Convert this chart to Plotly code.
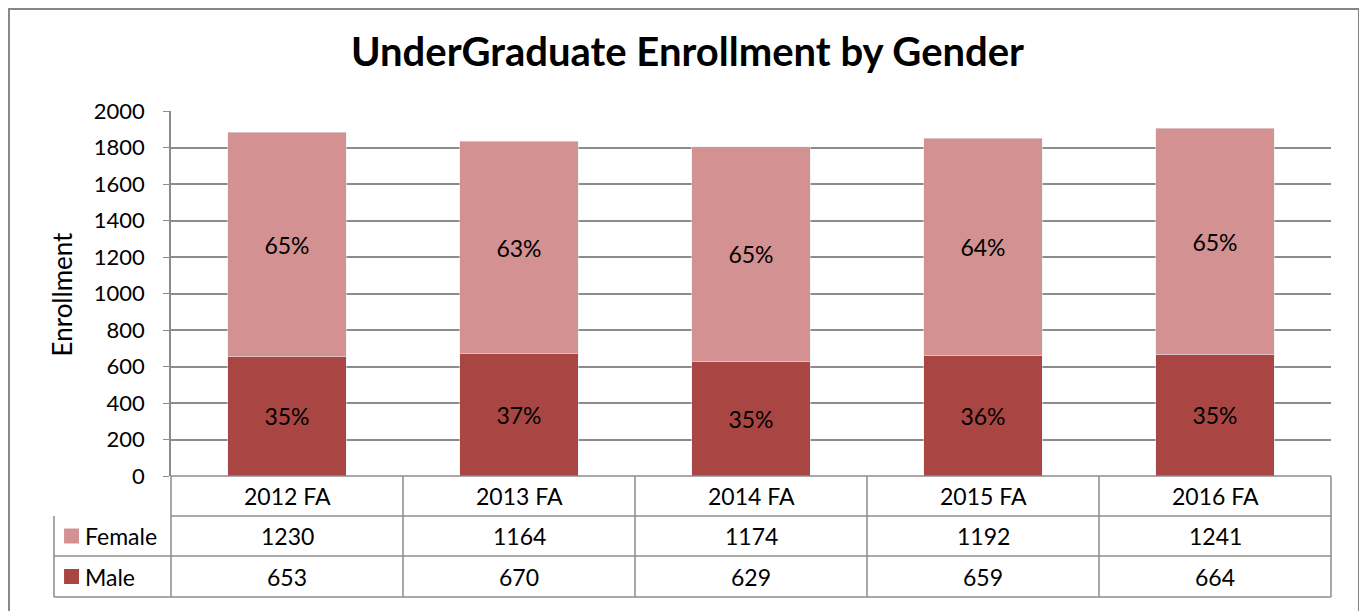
import plotly.graph_objects as go

years = ["2012 FA", "2013 FA", "2014 FA", "2015 FA", "2016 FA"]
female = [1230, 1164, 1174, 1192, 1241]
male = [653, 670, 629, 659, 664]

female_color = "#D39291"
male_color = "#A94643"
grid_color = "#8C8C8C"
font = "Lato, Calibri, sans-serif"

totals = [f + m for f, m in zip(female, male)]
male_pct = [f"{round(m / t * 100)}%" for m, t in zip(male, totals)]
female_pct = [f"{round(f / t * 100)}%" for f, t in zip(female, totals)]

fig = go.Figure()
fig.add_bar(x=years, y=male, name="Male", marker_color=male_color, width=0.51,
            text=male_pct, textposition="inside", insidetextanchor="middle",
            textfont=dict(color="black", size=23, family=font), hoverinfo="skip")
fig.add_bar(x=years, y=female, name="Female", marker_color=female_color, width=0.51,
            text=female_pct, textposition="inside", insidetextanchor="middle",
            textfont=dict(color="black", size=23, family=font), hoverinfo="skip")

# data table below the plot: paper coordinates of row borders
row_top = 0.0
row_cat = -0.1096
row_fem = -0.2192
row_male = -0.3315
left_col = -0.1009

shapes = []
line = dict(color=grid_color, width=1.5)
for y in (row_cat, row_fem, row_male):
    shapes.append(dict(type="line", xref="paper", yref="paper", x0=left_col if y != row_cat else 0,
                       x1=1, y0=y, y1=y, line=line))
shapes.append(dict(type="line", xref="paper", yref="paper", x0=0, x1=1, y0=row_top, y1=row_top, line=line))
shapes.append(dict(type="line", xref="paper", yref="paper", x0=left_col, x1=left_col,
                   y0=row_cat, y1=row_male, line=line))
for i in range(len(years) + 1):
    xp = i / len(years)
    shapes.append(dict(type="line", xref="paper", yref="paper", x0=xp, x1=xp,
                       y0=row_top, y1=row_male, line=line))
# outer chart border
shapes.append(dict(type="rect", xref="paper", yref="paper", x0=-0.1397, x1=1.0241,
                   y0=-0.45, y1=1.2795, line=dict(color="#868686", width=2)))

annotations = []
cell_font = dict(size=23, color="black", family=font)
for i, yr in enumerate(years):
    for text, y in ((yr, (row_top + row_cat) / 2),
                    (str(female[i]), (row_cat + row_fem) / 2),
                    (str(male[i]), (row_fem + row_male) / 2)):
        annotations.append(dict(x=yr, y=y, xref="x", yref="paper", text=text,
                                xanchor="center", yanchor="middle", showarrow=False, font=cell_font))

for name, color, y0, y1 in (("Female", female_color, row_cat, row_fem),
                            ("Male", male_color, row_fem, row_male)):
    yc = (y0 + y1) / 2
    shapes.append(dict(type="rect", xref="paper", yref="paper", x0=-0.0922, x1=-0.0793,
                       y0=yc - 0.0205, y1=yc + 0.0205, fillcolor=color, line=dict(width=0)))
    annotations.append(dict(x=-0.0755, y=yc, xref="paper", yref="paper", text=name,
                            xanchor="left", yanchor="middle", showarrow=False, font=cell_font))

annotations.append(dict(x=-0.094, y=0.5, xref="paper", yref="paper", text="Enrollment",
                        xanchor="center", yanchor="middle", textangle=-90, showarrow=False,
                        font=dict(size=26, color="black", family=font)))

# the page adds an 8px body margin, so the figure is 8px smaller than the window
fig.update_layout(
    width=1359, height=603,
    margin=dict(l=163, r=36, t=103, b=135),
    barmode="stack",
    showlegend=False,
    plot_bgcolor="white",
    paper_bgcolor="white",
    title=dict(text="<b>UnderGraduate Enrollment by Gender</b>", x=0.5, xanchor="center",
               y=0.927, yanchor="middle", yref="container",
               font=dict(size=40, color="black", family=font)),
    shapes=shapes,
    annotations=annotations,
)
fig.update_xaxes(showticklabels=False, showgrid=False, showline=False, zeroline=False)
fig.update_yaxes(range=[0, 2000], dtick=200, showgrid=True, gridcolor=grid_color, gridwidth=1.5,
                 showline=True, linecolor=grid_color, linewidth=1.5, zeroline=False,
                 ticks="outside", ticklen=6, tickcolor=grid_color, ticklabelstandoff=14,
                 tickfont=dict(size=22, color="black", family=font))

fig.write_html("out.html")
